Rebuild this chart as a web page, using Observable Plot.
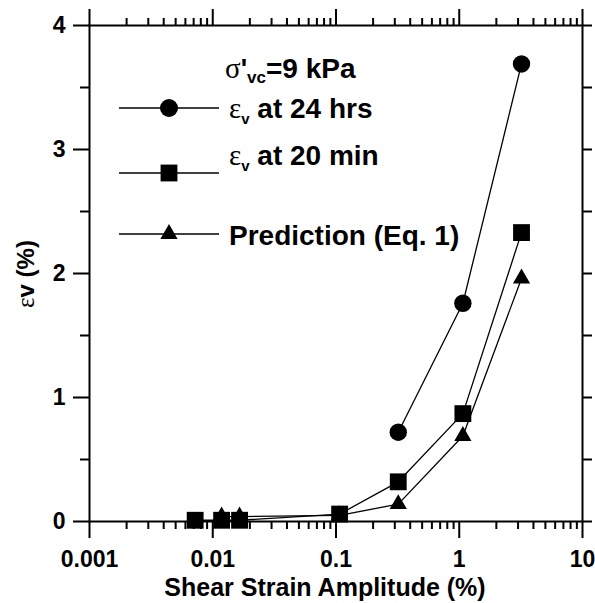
<!DOCTYPE html>
<html>
<head>
<meta charset="utf-8">
<script src="https://cdn.jsdelivr.net/npm/d3@7"></script>
<script src="https://cdn.jsdelivr.net/npm/@observablehq/plot@0.6"></script>
<style>
  html, body { margin: 0; padding: 0; background: white; }
</style>
</head>
<body>
<div id="chart"></div>
<script>
// ---- data ----
const strain24 = [0.32, 1.07, 3.2];
const ev24 = [0.72, 1.76, 3.69];

const strain20 = [0.0072, 0.0118, 0.0165, 0.107, 0.32, 1.07, 3.2];
const ev20 = [0.01, 0.01, 0.01, 0.06, 0.32, 0.87, 2.33];

const strainPred = [0.0118, 0.0165, 0.107, 0.32, 1.07, 3.2];
const evPred = [0.04, 0.04, 0.05, 0.14, 0.69, 1.96];

// ---- axis ticks ----
const xMajor = [0.001, 0.01, 0.1, 1, 10];
const xMinor = [];
for (const dec of [0.001, 0.01, 0.1, 1]) for (let k = 2; k <= 9; k++) xMinor.push(+(dec * k).toPrecision(3));
const yMajor = [0, 1, 2, 3, 4];
const yMinor = [0.5, 1.5, 2.5, 3.5];
const yAll = [0, 0.5, 1, 1.5, 2, 2.5, 3, 3.5, 4];

const xLabel = "Shear Strain Amplitude (%)";
const legendTitle = ["σ", "'", "vc", "=9 kPa"];
const legendItems = [
  {greek: "ε", sub: "v", text: " at 24 hrs", symbol: "circle"},
  {greek: "ε", sub: "v", text: " at 20 min", symbol: "square"},
  {greek: "", sub: "", text: "Prediction (Eq. 1)", symbol: "triangle"}
];

const t24 = strain24.map((x, i) => ({x, y: ev24[i]}));
const t20 = strain20.map((x, i) => ({x, y: ev20[i]}));
const tP = strainPred.map((x, i) => ({x, y: evPred[i]}));

const SANS = "Liberation Sans, Arial, Helvetica, sans-serif";
const SERIF = "Liberation Serif, Times New Roman, serif";
const rCircle = 8.7, rSquare = 9.5, rTri = 6.4;

const plot = Plot.plot({
  width: 595,
  height: 603,
  marginLeft: 89,
  marginRight: 13,
  marginTop: 25,
  marginBottom: 82,
  style: {fontFamily: SANS, background: "white", color: "black", overflow: "visible"},
  x: {type: "log", domain: [0.001, 10]},
  y: {domain: [0, 4]},
  marks: [
    Plot.axisX(xMajor, {anchor: "bottom", tickSize: 17, tickPadding: 12, strokeWidth: 2,
      tickFormat: d => String(d), fontSize: 23, fontWeight: "bold", label: null}),
    Plot.axisX(xMinor, {anchor: "bottom", tickSize: 8, strokeWidth: 2, tickFormat: () => "", label: null}),
    Plot.axisX(xMajor, {anchor: "top", tickSize: 17, strokeWidth: 2, tickFormat: () => "", label: null}),
    Plot.axisX(xMinor, {anchor: "top", tickSize: 8, strokeWidth: 2, tickFormat: () => "", label: null}),
    Plot.axisY(yMajor, {anchor: "left", tickSize: 16, tickPadding: 8, strokeWidth: 2,
      tickFormat: d => String(d), fontSize: 23, fontWeight: "bold", label: null}),
    Plot.axisY(yMinor, {anchor: "left", tickSize: 9, strokeWidth: 2, tickFormat: () => "", label: null}),
    Plot.axisY(yAll, {anchor: "right", tickSize: 9, strokeWidth: 2, tickFormat: () => "", label: null}),
    Plot.frame({stroke: "black", strokeWidth: 2}),
    Plot.text([xLabel], {text: d => d, frameAnchor: "bottom", lineAnchor: "middle", dx: -11, dy: 66,
      fontSize: 25, fontWeight: "bold", fill: "black"}),
    Plot.line(tP, {x: "x", y: "y", stroke: "black", strokeWidth: 1.3}),
    Plot.line(t20, {x: "x", y: "y", stroke: "black", strokeWidth: 1.3}),
    Plot.line(t24, {x: "x", y: "y", stroke: "black", strokeWidth: 1.3}),
    Plot.dot(tP, {x: "x", y: "y", symbol: "triangle", r: rTri, fill: "black", stroke: "none"}),
    Plot.dot(t20, {x: "x", y: "y", symbol: "square", r: rSquare, fill: "black", stroke: "none"}),
    Plot.dot(t24, {x: "x", y: "y", symbol: "circle", r: rCircle, fill: "black", stroke: "none"})
  ]
});

document.getElementById("chart").appendChild(plot);

// ---- y-axis label with thin Greek epsilon ----
const svg = d3.select(plot);
const yl = svg.append("text")
  .attr("transform", "translate(34,274) rotate(-90)")
  .attr("text-anchor", "middle")
  .attr("fill", "black");
yl.append("tspan").attr("font-family", SERIF).attr("font-size", 25).text("ε");
yl.append("tspan").attr("font-family", SANS).attr("font-weight", "bold").attr("font-size", 24).text("v (%)");

// ---- legend ----
const lg = svg.append("g").attr("fill", "black").attr("text-anchor", "start");
const title = lg.append("text").attr("x", 225).attr("y", 78).attr("text-anchor", "start");
title.append("tspan").attr("font-family", SERIF).attr("font-size", 29).text(legendTitle[0]);
title.append("tspan").attr("font-family", SANS).attr("font-weight", "bold").attr("font-size", 27).text(legendTitle[1]);
title.append("tspan").attr("font-family", SANS).attr("font-weight", "bold").attr("font-size", 17).attr("dy", 5).text(legendTitle[2]);
title.append("tspan").attr("font-family", SANS).attr("font-weight", "bold").attr("font-size", 28).attr("dy", -5).text(legendTitle[3]);

const rowLineY = [108, 173, 234];
const rowTextY = [118, 165, 245];
const symType = {circle: d3.symbolCircle, square: d3.symbolSquare, triangle: d3.symbolTriangle};
const symR = {circle: 9, square: 9.5, triangle: 6.4};
legendItems.forEach((it, i) => {
  lg.append("line").attr("x1", 119).attr("x2", 219).attr("y1", rowLineY[i]).attr("y2", rowLineY[i])
    .attr("stroke", "black").attr("stroke-width", 1.3);
  lg.append("path")
    .attr("d", d3.symbol(symType[it.symbol], Math.PI * symR[it.symbol] ** 2)())
    .attr("transform", `translate(169,${rowLineY[i]})`);
  const t = lg.append("text").attr("x", 229).attr("y", rowTextY[i]).attr("text-anchor", "start");
  if (it.greek) {
    t.append("tspan").attr("font-family", SERIF).attr("font-size", 29).text(it.greek);
    t.append("tspan").attr("font-family", SANS).attr("font-weight", "bold").attr("font-size", 15).attr("dy", 6).text(it.sub);
    t.append("tspan").attr("font-family", SANS).attr("font-weight", "bold").attr("font-size", 28).attr("dy", -6).text(it.text);
  } else {
    t.append("tspan").attr("font-family", SANS).attr("font-weight", "bold").attr("font-size", 28).text(it.text);
  }
});
</script>
</body>
</html>
